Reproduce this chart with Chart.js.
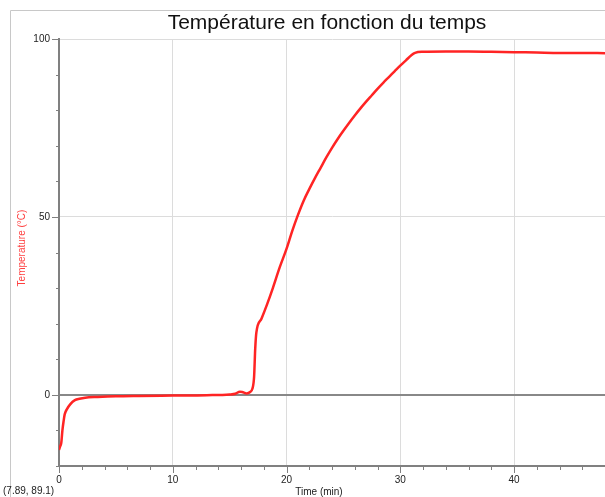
<!DOCTYPE html>
<html>
<head>
<meta charset="utf-8">
<script src="https://cdn.jsdelivr.net/npm/chart.js@4"></script>
<style>
  html, body { margin: 0; padding: 0; background: #fff; }
  #wrap { width: 605px; height: 497px; position: relative; }
</style>
</head>
<body>
<div id="wrap"><canvas id="graphique"></canvas></div>
<script>
const titre = 'Température en fonction du temps';
const titreX = 'Time (min)';
const titreY = 'Temperature (°C)';
const curseur = '(7.89, 89.1)';

// temps en minutes, température en °C
const temps = [0, 0.1, 0.2, 0.3, 0.4, 0.5, 0.7, 1.0, 1.4, 1.8, 2.3, 3.4, 5, 7, 10, 13, 15, 15.5, 15.9, 16.1, 16.5, 16.8, 17.0, 17.15, 17.25, 17.35,
  17.8, 18.3, 18.8, 19.4, 20.0, 20.5, 21, 21.5, 22, 22.5, 23, 23.5, 24, 24.5, 25, 25.5, 26, 26.5, 27, 27.5, 28, 28.5, 29, 29.5, 30, 30.5, 31, 31.3,
  32, 34, 36, 38, 40, 42, 44, 46, 48];
const temperature = [-15.5, -14.5, -13.5, -10, -7.5, -5.5, -4, -2.6, -1.5, -1.1, -0.8, -0.6, -0.4, -0.3, -0.2, -0.1, 0.1, 0.3, 0.9, 0.8, 0.4, 0.8, 1.7, 5, 13, 17.5,
  21.4, 25.5, 30, 35.8, 41, 46, 50.5, 54.5, 57.8, 60.9, 63.8, 66.7, 69.4, 71.9, 74.2, 76.4, 78.5, 80.5, 82.4, 84.2, 86, 87.7, 89.3, 90.9, 92.5, 94, 95.5, 96.1,
  96.4, 96.5, 96.5, 96.4, 96.3, 96.2, 96.1, 96.1, 96.0];

const ticksX = [0, 10, 20, 30, 40];
const ticksY = [0, 50, 100];

const points = temps.map((t, i) => ({ x: t, y: temperature[i] }));

function couleurGrille(valeur, listeMajeurs) {
  if (valeur === 0) return '#888888';
  if (listeMajeurs.includes(valeur)) return '#dcdcdc';
  return 'rgba(0,0,0,0)';
}

// cadre, titre, petites graduations et textes
const decor = {
  id: 'decor',
  afterDraw(chart) {
    const ctx = chart.ctx;
    const zone = chart.chartArea;
    const sx = chart.scales.x;
    const sy = chart.scales.y;
    ctx.save();

    ctx.strokeStyle = '#c8c8c8';
    ctx.lineWidth = 1;
    ctx.beginPath();
    ctx.moveTo(10.5, 497);
    ctx.lineTo(10.5, 10.5);
    ctx.lineTo(605, 10.5);
    ctx.stroke();

    ctx.strokeStyle = '#808080';
    ctx.lineWidth = 1;
    for (let v = -20; v <= 100; v += 10) {
      const y = Math.round(sy.getPixelForValue(v)) + 0.5;
      const long = ticksY.includes(v) ? 7 : 3;
      ctx.beginPath();
      ctx.moveTo(zone.left - long, y);
      ctx.lineTo(zone.left, y);
      ctx.stroke();
    }
    for (let v = 0; v <= 48; v += 2) {
      const x = Math.round(sx.getPixelForValue(v)) + 0.5;
      const long = ticksX.includes(v) ? 7 : 4;
      ctx.beginPath();
      ctx.moveTo(x, zone.bottom);
      ctx.lineTo(x, zone.bottom + long);
      ctx.stroke();
    }

    ctx.fillStyle = '#111';
    ctx.font = '21px "Liberation Sans", Arial, sans-serif';
    ctx.textAlign = 'center';
    ctx.textBaseline = 'middle';
    ctx.fillText(titre, 327, 23);

    ctx.font = '10px "Liberation Sans", Arial, sans-serif';
    ctx.fillStyle = '#222';
    ctx.fillText(titreX, 319, 492);
    ctx.textAlign = 'left';
    ctx.fillText(curseur, 3, 491);

    ctx.translate(22, 248);
    ctx.rotate(-Math.PI / 2);
    ctx.textAlign = 'center';
    ctx.fillStyle = '#ff4040';
    ctx.fillText(titreY, 0, 0);
    ctx.restore();
  }
};

new Chart(document.getElementById('graphique'), {
  type: 'line',
  data: {
    datasets: [{
      label: titreY,
      data: points,
      borderColor: '#ff2424',
      borderWidth: 2.5,
      pointRadius: 0,
      cubicInterpolationMode: 'monotone',
      fill: false
    }]
  },
  options: {
    responsive: true,
    maintainAspectRatio: false,
    animation: false,
    layout: { padding: { top: 39, right: 0, left: 0, bottom: 0 } },
    plugins: {
      legend: { display: false },
      title: { display: false },
      tooltip: { enabled: false }
    },
    scales: {
      x: {
        type: 'linear',
        min: 0,
        max: 48,
        afterFit: s => { s.height = 31; s.paddingRight = 0; s.paddingLeft = 0; },
        border: { color: '#808080', width: 2 },
        grid: {
          drawTicks: false,
          color: c => couleurGrille(c.tick.value, ticksX),
          lineWidth: 1
        },
        ticks: {
          stepSize: 2,
          autoSkip: false,
          maxRotation: 0,
          padding: 8,
          color: '#222',
          font: { family: '"Liberation Sans", Arial, sans-serif', size: 10 },
          callback: v => ticksX.includes(v) ? String(v) : ''
        }
      },
      y: {
        type: 'linear',
        min: -20,
        max: 100,
        afterFit: s => { s.width = 59; s.paddingTop = 0; s.paddingBottom = 0; },
        border: { color: '#808080', width: 2 },
        grid: {
          drawTicks: false,
          color: c => couleurGrille(c.tick.value, ticksY),
          lineWidth: c => c.tick.value === 0 ? 2 : 1
        },
        ticks: {
          stepSize: 10,
          autoSkip: false,
          padding: 9,
          color: '#222',
          font: { family: '"Liberation Sans", Arial, sans-serif', size: 10 },
          callback: v => ticksY.includes(v) ? String(v) : ''
        }
      }
    }
  },
  plugins: [decor]
});
</script>
</body>
</html>
